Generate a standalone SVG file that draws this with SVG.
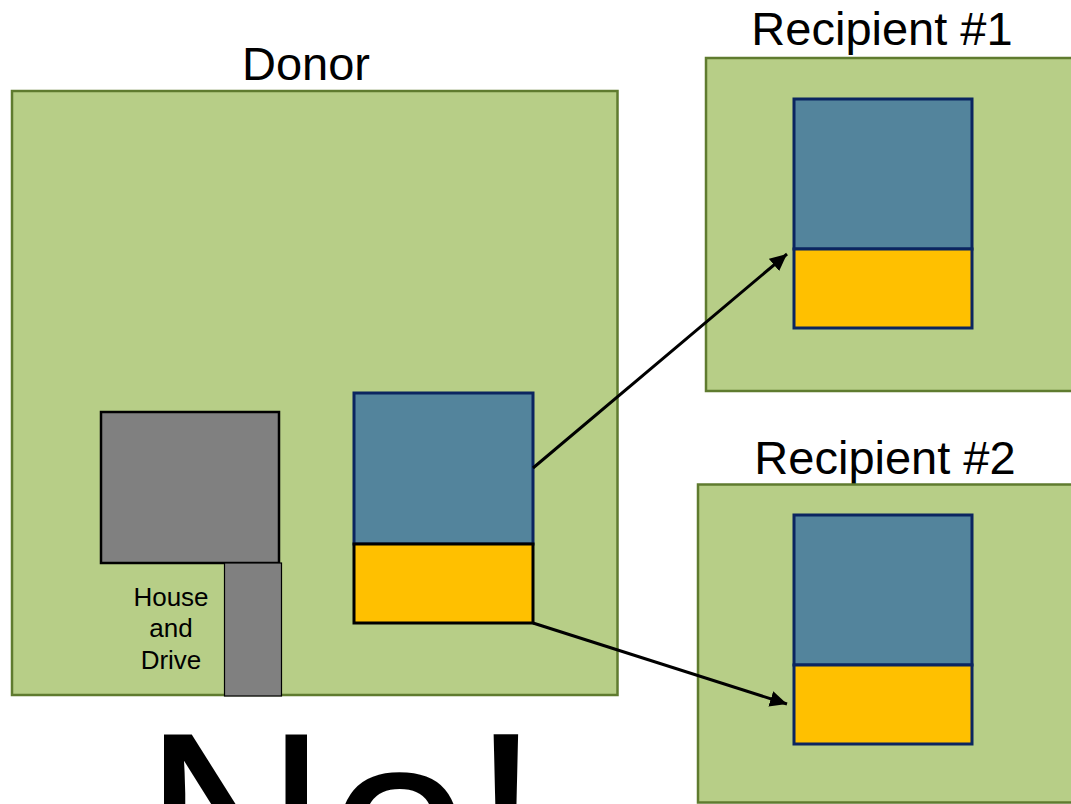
<svg xmlns="http://www.w3.org/2000/svg" width="1071" height="804" viewBox="0 0 1071 804">
  <style>
    .lot { fill: #b7ce87; stroke: #5f7b2f; stroke-width: 2.5; }
    .house { fill: #808080; stroke: #000; stroke-width: 2.5; }
    .drive { fill: #808080; stroke: #000; stroke-width: 1.2; }
    .blue { fill: #53849c; stroke: #0b2560; stroke-width: 3; }
    .gold { fill: #ffc000; stroke: #0b2560; stroke-width: 3; }
    .gold.donor { stroke: #000; }
    .title { font-family: "Liberation Sans", Arial, sans-serif; font-size: 47px; fill: #000; text-anchor: middle; }
    .small { font-family: "Liberation Sans", Arial, sans-serif; font-size: 26px; fill: #000; text-anchor: middle; }
    .big { font-family: "Liberation Sans", Arial, sans-serif; font-size: 256px; fill: #000; }
    .conn { stroke: #000; stroke-width: 3; fill: none; marker-end: url(#head); }
  </style>
  <defs>
    <marker id="head" markerUnits="userSpaceOnUse" markerWidth="18" markerHeight="17" refX="17" refY="8" orient="auto">
      <path d="M0,0 L17,8 L0,16 z" fill="#000"/>
    </marker>
  </defs>

  <!-- donor lot -->
  <g id="donor">
    <text class="title" x="306" y="80">Donor</text>
    <rect class="lot" x="12" y="91" width="605.5" height="604"/>
  </g>

  <g id="house">
    <rect class="house" x="101" y="412" width="178" height="151"/>
    <rect class="drive" x="224.5" y="563" width="57" height="133"/>
    <text class="small" x="171" y="606">House</text>
    <text class="small" x="171" y="637">and</text>
    <text class="small" x="171" y="669">Drive</text>
  </g>

  <g id="donor-parcel">
    <rect class="blue" x="354" y="393" width="179" height="151"/>
    <rect class="gold donor" x="354" y="544" width="179" height="79"/>
  </g>

  <!-- recipient lots -->
  <g id="recipient1">
    <text class="title" x="882" y="45">Recipient #1</text>
    <rect class="lot" x="706" y="58" width="380" height="333"/>
    <rect class="blue" x="794" y="99" width="178" height="150"/>
    <rect class="gold" x="794" y="249" width="178" height="79"/>
  </g>

  <g id="recipient2">
    <text class="title" x="885" y="474">Recipient #2</text>
    <rect class="lot" x="698" y="484.5" width="390" height="318"/>
    <rect class="blue" x="794" y="515" width="178" height="150"/>
    <rect class="gold" x="794" y="665" width="178" height="79"/>
  </g>

  <!-- transfers -->
  <g id="connectors">
    <line class="conn" x1="533" y1="468" x2="787" y2="254"/>
    <line class="conn" x1="533" y1="623" x2="787" y2="704"/>
  </g>

  <text id="verdict" class="big" x="143" y="911">No!</text>
</svg>
